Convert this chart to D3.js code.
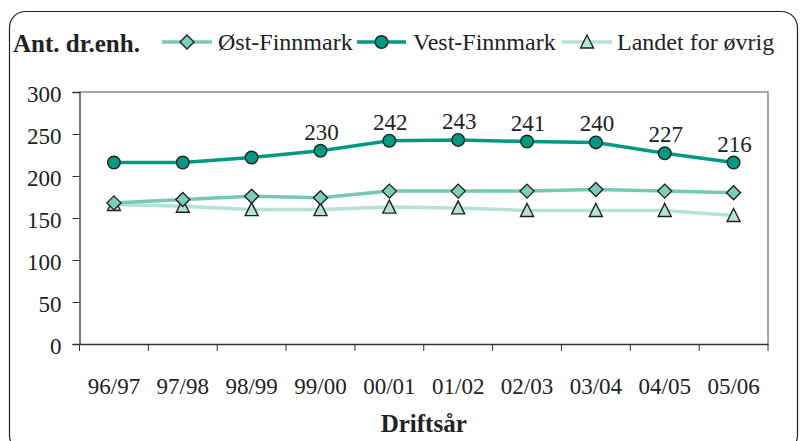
<!DOCTYPE html>
<html>
<head>
<meta charset="utf-8">
<script src="https://cdn.jsdelivr.net/npm/d3@7"></script>
<style>
  html, body { margin: 0; padding: 0; background: #fff; }
</style>
</head>
<body>
<div id="chart"></div>
<script>
// Chart data
const years = ['96/97', '97/98', '98/99', '99/00', '00/01', '01/02', '02/03', '03/04', '04/05', '05/06']
const ostFinnmark = [168, 172, 176, 174, 182, 182, 182, 184, 182, 180]
const vestFinnmark = [216, 216, 222, 230, 242, 243, 241, 240, 227, 216]
const landetOvrig = [166, 164, 160, 160, 163, 162, 159, 159, 159, 153]
const labelledVest = [false, false, false, true, true, true, true, true, true, true]
const yTicks = [0, 50, 100, 150, 200, 250, 300]

const FONT = "'Liberation Serif', 'Times New Roman', Times, serif"

const width = 803
const height = 441
const margin = { top: 92, right: 35, bottom: 97, left: 79.5 }

const svg = d3
  .select('#chart')
  .append('svg')
  .attr('width', width)
  .attr('height', height)

// Rounded frame round the whole chart
svg
  .append('rect')
  .attr('x', 9.5)
  .attr('y', 11.5)
  .attr('width', 788)
  .attr('height', 440)
  .attr('rx', 16)
  .style('fill', '#fff')
  .style('stroke', '#222')
  .style('stroke-width', 1.2)

const x = d3
  .scaleBand()
  .domain(years)
  .range([margin.left, width - margin.right])

const y = d3
  .scaleLinear()
  .domain([0, 300])
  .range([height - margin.bottom, margin.top])

// Plot area border (top and right grey)
svg
  .append('path')
  .attr('d', `M${margin.left},${y(300)}H${width - margin.right}V${y(0)}`)
  .style('fill', 'none')
  .style('stroke', '#8a8a8a')
  .style('stroke-width', 1.5)

// Y axis
const yAxis = svg
  .append('g')
  .attr('transform', `translate(${margin.left},0)`)
  .call(d3.axisLeft(y).tickValues(yTicks).tickSize(7).tickPadding(11))
yAxis.attr('font-family', null)
yAxis.select('.domain').style('stroke', '#333').style('stroke-width', 1.3)
yAxis.selectAll('.tick line').style('stroke', '#333')
yAxis
  .selectAll('.tick text')
  .style('font-family', FONT)
  .style('font-size', '23px')
  .style('fill', '#222')
  .attr('dy', '0.42em')

// X axis
const xAxis = svg
  .append('g')
  .attr('transform', `translate(0,${y(0)})`)
  .call(d3.axisBottom(x).tickSize(0).tickPadding(34))
xAxis.attr('font-family', null)
xAxis.select('.domain').style('stroke', '#333').style('stroke-width', 1.3)
xAxis
  .selectAll('.tick text')
  .style('font-family', FONT)
  .style('font-size', '23px')
  .style('fill', '#222')

// X tick marks between categories
const bounds = years.map((d) => x(d)).concat([x(years[years.length - 1]) + x.bandwidth()])
svg
  .append('g')
  .selectAll('line')
  .data(bounds)
  .enter()
  .append('line')
  .attr('x1', (d) => d)
  .attr('x2', (d) => d)
  .attr('y1', y(0))
  .attr('y2', y(0) + 7)
  .style('stroke', '#333')
  .style('stroke-width', 1)

// Axis titles
svg
  .append('text')
  .attr('x', 13)
  .attr('y', 52)
  .style('font-family', FONT)
  .style('font-size', '25px')
  .style('font-weight', 'bold')
  .style('fill', '#222')
  .text('Ant. dr.enh.')

svg
  .append('text')
  .attr('x', (margin.left + width - margin.right) / 2)
  .attr('y', 432)
  .attr('text-anchor', 'middle')
  .style('font-family', FONT)
  .style('font-size', '25px')
  .style('font-weight', 'bold')
  .style('fill', '#222')
  .text('Driftsår')

// Series definitions
const series = [
  { name: 'Øst-Finnmark', values: ostFinnmark, line: '#76c8b7', fill: '#7dcdbd', marker: 'diamond' },
  { name: 'Vest-Finnmark', values: vestFinnmark, line: '#009a83', fill: '#009a83', marker: 'circle' },
  { name: 'Landet for øvrig', values: landetOvrig, line: '#b5e2d8', fill: '#b5e2d8', marker: 'triangle' },
]

const cx = (i) => x(years[i]) + x.bandwidth() / 2

const markerPath = (type) => {
  if (type === 'diamond') return 'M0,-7L7,0L0,7L-7,0Z'
  if (type === 'triangle') return 'M0,-7L6.5,6L-6.5,6Z'
  return null
}

const drawMarker = (g, type, fill, px, py) => {
  if (type === 'circle') {
    g.append('circle')
      .attr('cx', px)
      .attr('cy', py)
      .attr('r', 6.3)
      .style('fill', fill)
      .style('stroke', '#222')
      .style('stroke-width', 1.4)
  } else {
    g.append('path')
      .attr('d', markerPath(type))
      .attr('transform', `translate(${px},${py})`)
      .style('fill', fill)
      .style('stroke', '#222')
      .style('stroke-width', 1.4)
  }
}

const line = d3
  .line()
  .x((d, i) => cx(i))
  .y((d) => y(d))

// Lines first (back to front: Landet, Øst, Vest)
const drawOrder = [series[2], series[0], series[1]]
drawOrder.forEach((s) => {
  svg
    .append('path')
    .datum(s.values)
    .attr('d', line)
    .style('fill', 'none')
    .style('stroke', s.line)
    .style('stroke-width', 3.5)
})

drawOrder.forEach((s) => {
  const g = svg.append('g')
  s.values.forEach((v, i) => drawMarker(g, s.marker, s.fill, cx(i), y(v)))
})

// Data labels on Vest-Finnmark
svg
  .append('g')
  .selectAll('text')
  .data(vestFinnmark.map((v, i) => ({ v, i })).filter((d) => labelledVest[d.i]))
  .enter()
  .append('text')
  .attr('x', (d) => cx(d.i) + 1)
  .attr('y', (d) => y(d.v) - 11)
  .attr('text-anchor', 'middle')
  .style('font-family', FONT)
  .style('font-size', '23px')
  .style('fill', '#222')
  .text((d) => d.v)

// Legend
const legendItems = [
  { s: series[0], x0: 162, x1: 212, tx: 218 },
  { s: series[1], x0: 357, x1: 406, tx: 413 },
  { s: series[2], x0: 562, x1: 612, tx: 617 },
]
const legend = svg.append('g')
legendItems.forEach((d) => {
  legend
    .append('line')
    .attr('x1', d.x0)
    .attr('x2', d.x1)
    .attr('y1', 42)
    .attr('y2', 42)
    .style('stroke', d.s.line)
    .style('stroke-width', 3.5)
  drawMarker(legend, d.s.marker, d.s.fill, (d.x0 + d.x1) / 2, 42)
  legend
    .append('text')
    .attr('x', d.tx)
    .attr('y', 50)
    .style('font-family', FONT)
    .style('font-size', '24px')
    .style('fill', '#222')
    .text(d.s.name)
})
</script>
</body>
</html>
